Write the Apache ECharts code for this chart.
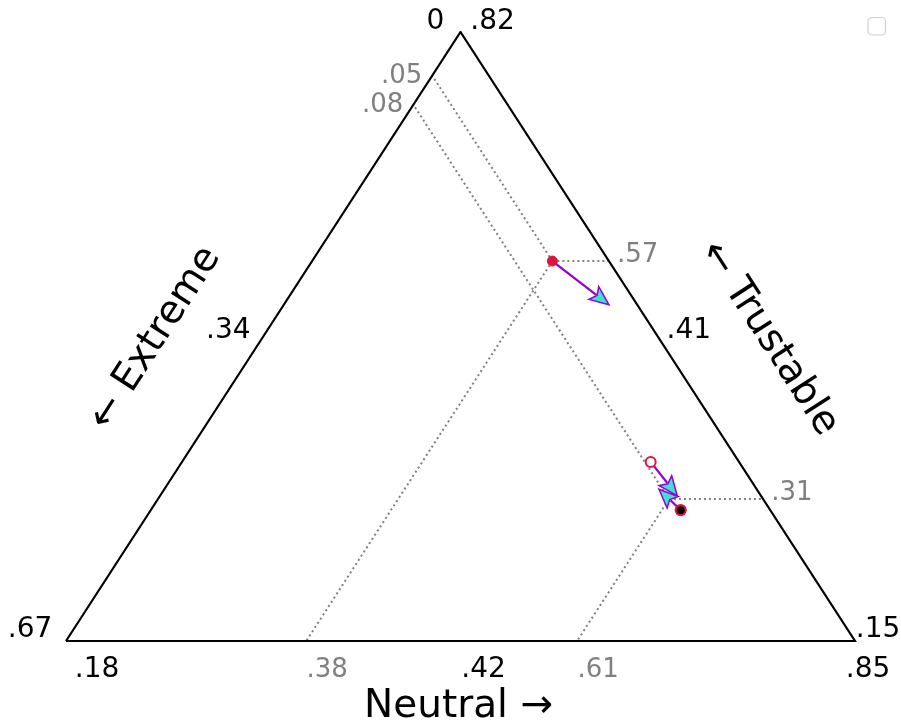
<!DOCTYPE html>
<html>
<head>
<meta charset="utf-8">
<script src="https://cdn.jsdelivr.net/npm/echarts@6/dist/echarts.min.js"></script>
<style>
  html, body { margin: 0; padding: 0; background: #ffffff; }
  #chart { width: 901px; height: 723px; }
</style>
</head>
<body>
<div id="chart"></div>
<script>
// Limits of the zoomed ternary diagram, [min, max] for each share
const neutralLimits = [0.18, 0.85];
const extremeLimits = [0.00, 0.67];
const trustableLimits = [0.15, 0.82];

// Edge tick labels: [first corner, middle, second corner]
const neutralTicks = ['.18', '.42', '.85'];
const extremeTicks = ['.67', '.34', '0'];
const trustableTicks = ['.15', '.41', '.82'];

// Axis titles
const neutralTitle = 'Neutral →';
const extremeTitle = '← Extreme';
const trustableTitle = '← Trustable';

const guidePoints = [
  [0.384, 0.048, 0.568],
  [0.614, 0.080, 0.306]
];

// Shifts drawn as arrows: start and end as [neutral, extreme, trustable]
const arrowStarts = [
  [0.384, 0.048, 0.568],
  [0.578, 0.075, 0.347],
  [0.630, 0.076, 0.294]
];
const arrowEnds = [
  [0.456, 0.024, 0.520],
  [0.619, 0.071, 0.310],
  [0.600, 0.083, 0.317]
];
// Marker style at each arrow start
const markerKinds = ['filled', 'open', 'dark'];

const FONT = '"DejaVu Sans", "Noto Sans", sans-serif';
const GREY = '#808080';
const TICK_SIZE = 28;
const GUIDE_SIZE = 26;
const TITLE_SIZE = 39;

// ternary shares -> unit cartesian plane (bottom-left 0,0 / bottom-right 1,0 / top 0.5,1)
function toXY(p) {
  const a = p[0] - neutralLimits[0];
  const b = p[1] - extremeLimits[0];
  const c = p[2] - trustableLimits[0];
  const s = a + b + c;
  return [(a + c / 2) / s, c / s];
}

const cornerBL = [neutralLimits[0], extremeLimits[1], trustableLimits[0]];
const cornerBR = [neutralLimits[1], extremeLimits[0], trustableLimits[0]];
const cornerTop = [neutralLimits[0], extremeLimits[0], trustableLimits[1]];
const BL = toXY(cornerBL), BR = toXY(cornerBR), TOP = toXY(cornerTop);
const mid = (p, q) => [(p[0] + q[0]) / 2, (p[1] + q[1]) / 2];

const fmt = v => v.toFixed(2).replace(/^0(?=\.)/, '');

// guide segments: constant trustable to right edge, constant extreme to left edge, constant neutral to bottom edge
const guideSegments = [];
const labelSpecs = [];
guidePoints.forEach(g => {
  const [n, e, t] = g;
  const P = toXY(g);
  const right = toXY([1 - t - extremeLimits[0], extremeLimits[0], t]);
  const left = toXY([neutralLimits[0], e, 1 - neutralLimits[0] - e]);
  const bottom = toXY([n, 1 - n - trustableLimits[0], trustableLimits[0]]);
  guideSegments.push({ coords: [P, right] }, { coords: [P, left] }, { coords: [P, bottom] });
  labelSpecs.push(
    { at: right, text: fmt(t), dx: 8, dy: -6, align: 'left', size: GUIDE_SIZE, color: GREY },
    { at: left, text: fmt(e), dx: -10, dy: 1, align: 'right', size: GUIDE_SIZE, color: GREY },
    { at: bottom, text: fmt(n), dx: 21, dy: 29, align: 'center', size: GUIDE_SIZE, color: GREY }
  );
});

// corner and middle tick labels
labelSpecs.push(
  { at: TOP, text: extremeTicks[2], dx: -25, dy: -10, align: 'center', size: TICK_SIZE, color: '#000' },
  { at: TOP, text: trustableTicks[2], dx: 32, dy: -10, align: 'center', size: TICK_SIZE, color: '#000' },
  { at: BL, text: extremeTicks[0], dx: -36, dy: -11, align: 'center', size: TICK_SIZE, color: '#000' },
  { at: BL, text: neutralTicks[0], dx: 31, dy: 29, align: 'center', size: TICK_SIZE, color: '#000' },
  { at: BR, text: trustableTicks[0], dx: 23, dy: -11, align: 'center', size: TICK_SIZE, color: '#000' },
  { at: BR, text: neutralTicks[2], dx: 13, dy: 29, align: 'center', size: TICK_SIZE, color: '#000' },
  { at: mid(BL, TOP), text: extremeTicks[1], dx: -35, dy: -6, align: 'center', size: TICK_SIZE, color: '#000' },
  { at: mid(BR, TOP), text: trustableTicks[1], dx: 31, dy: -6, align: 'center', size: TICK_SIZE, color: '#000' },
  { at: mid(BL, BR), text: neutralTicks[1], dx: 23, dy: 29, align: 'center', size: TICK_SIZE, color: '#000' },
  // axis titles
  { at: mid(BL, BR), text: neutralTitle, dx: -2, dy: 66, align: 'center', size: TITLE_SIZE, color: '#000' },
  { at: mid(BL, TOP), text: extremeTitle, dx: -108, dy: 2, align: 'center', size: TITLE_SIZE, color: '#000', rot: 57.1 },
  { at: mid(BR, TOP), text: trustableTitle, dx: 111, dy: 2, align: 'center', size: TITLE_SIZE, color: '#000', rot: -57.1 }
);

const arrowData = arrowStarts.map((s, i) => toXY(s).concat(toXY(arrowEnds[i])));

const markerStyles = {
  filled: { color: '#DC143C', borderColor: '#DC143C', borderWidth: 1, opacity: 1 },
  open: { color: '#ffffff', borderColor: '#DC143C', borderWidth: 2, opacity: 1 },
  dark: { color: '#000000', borderColor: '#DC143C', borderWidth: 2.2, opacity: 1 }
};
const markerData = arrowStarts.map((s, i) => ({ value: toXY(s), itemStyle: markerStyles[markerKinds[i]] }));

const chart = echarts.init(document.getElementById('chart'), null, { renderer: 'canvas' });

chart.setOption({
  animation: false,
  backgroundColor: '#ffffff',
  grid: { left: 66, right: 46, top: 32, bottom: 82 },
  xAxis: { type: 'value', min: 0, max: 1, show: false },
  yAxis: { type: 'value', min: 0, max: 1, show: false },
  graphic: [{
    type: 'rect',
    shape: { x: 868, y: 17.5, width: 17.5, height: 17.5, r: 4 },
    style: { fill: '#ffffff', stroke: '#d0d0d0', lineWidth: 1.2 }
  }],
  series: [
    {
      // triangle outline
      type: 'line',
      data: [BL, BR, TOP, BL],
      symbol: 'none',
      silent: true,
      lineStyle: { color: '#000000', width: 2.2, join: 'miter' },
      z: 3
    },
    {
      // dotted guides
      type: 'lines',
      coordinateSystem: 'cartesian2d',
      data: guideSegments,
      silent: true,
      lineStyle: { color: GREY, width: 2, type: [2, 3], opacity: 1 },
      z: 2
    },
    {
      // shift arrows
      type: 'custom',
      data: arrowData,
      silent: true,
      z: 4,
      renderItem: function (params, api) {
        const s = api.coord([api.value(0), api.value(1)]);
        const e = api.coord([api.value(2), api.value(3)]);
        const dx = e[0] - s[0], dy = e[1] - s[1];
        const len = Math.sqrt(dx * dx + dy * dy);
        const ux = dx / len, uy = dy / len;
        const L = 19, W = 8;
        const bx = e[0] - ux * L, by = e[1] - uy * L;
        return {
          type: 'group',
          children: [
            {
              type: 'line',
              shape: { x1: s[0], y1: s[1], x2: bx + ux * 3, y2: by + uy * 3 },
              style: { stroke: '#9400D3', lineWidth: 2.2 }
            },
            {
              type: 'polygon',
              shape: { points: [e, [bx - uy * W, by + ux * W], [bx + ux * 4, by + uy * 4], [bx + uy * W, by - ux * W]] },
              style: { fill: '#40E0D0', stroke: '#9400D3', lineWidth: 1.5, lineJoin: 'miter' }
            }
          ]
        };
      }
    },
    {
      // arrow start markers
      type: 'scatter',
      data: markerData,
      symbol: 'circle',
      symbolSize: 10,
      silent: true,
      z: 5
    },
    {
      // tick labels and axis titles
      type: 'custom',
      data: labelSpecs.map(l => l.at),
      silent: true,
      z: 6,
      renderItem: function (params, api) {
        const spec = labelSpecs[params.dataIndex];
        const p = api.coord([api.value(0), api.value(1)]);
        return {
          type: 'text',
          x: p[0] + spec.dx,
          y: p[1] + spec.dy,
          rotation: (spec.rot || 0) * Math.PI / 180,
          style: {
            text: spec.text,
            x: 0,
            y: 0,
            align: spec.align,
            verticalAlign: 'middle',
            fill: spec.color,
            font: spec.size + 'px ' + FONT
          }
        };
      }
    }
  ]
});
</script>
</body>
</html>
